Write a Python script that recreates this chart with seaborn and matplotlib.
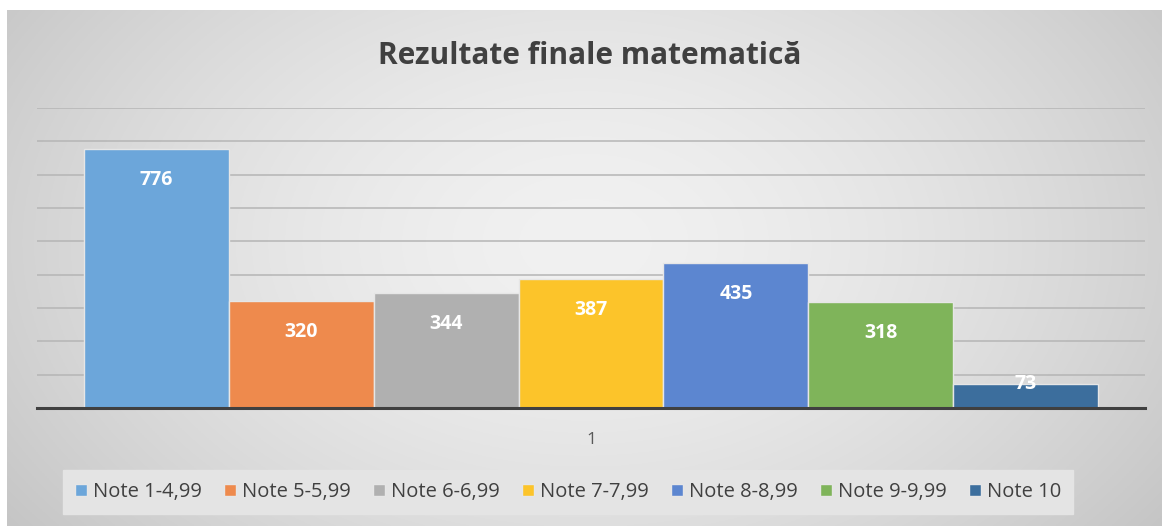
import numpy as np
import pandas as pd
import matplotlib
matplotlib.use("Agg")
import matplotlib.pyplot as plt
import seaborn as sns

categories = ["1"]
series = ["Note 1-4,99", "Note 5-5,99", "Note 6-6,99", "Note 7-7,99",
          "Note 8-8,99", "Note 9-9,99", "Note 10"]
values = [776, 320, 344, 387, 435, 318, 73]
colors = ["#6CA6DA", "#EE8A4D", "#B0B0B0", "#FCC42A", "#5C86D0", "#7FB45A", "#3C6E9D"]

sns.set_theme(style="white")
plt.rcParams['font.family'] = ['Open Sans', 'DejaVu Sans']

fig = plt.figure(figsize=(11.62, 5.26), dpi=100)
fig.patch.set_facecolor("white")

# gradient background
bg = fig.add_axes([7/1162, 0, 1 - 7/1162, 516/526], zorder=-10)
H, W = 300, 600
yy, xx = np.mgrid[0:H, 0:W]
cx, cy = W * 0.5, H * 0.45
d = np.sqrt(((xx - cx) / (W * 0.5)) ** 2 + ((yy - cy) / (H * 0.75)) ** 2)
d = np.clip(d / 1.25, 0, 1)
c0, c1 = 0.945, 0.77
g = c0 + (c1 - c0) * d ** 1.6
img = np.dstack([g, g, g])
bg.imshow(img, aspect="auto", extent=[0, 1, 0, 1], origin="upper")
bg.set_axis_off()

ax = fig.add_axes([37/1162, 118/526, (1145 - 37)/1162, 300/526])
ax.set_facecolor("none")

df = pd.DataFrame({"cat": categories * len(series), "series": series, "val": values})
sns.barplot(data=df, x="cat", y="val", hue="series", hue_order=series,
            palette=colors, saturation=1, width=0.915, ax=ax, edgecolor="#e6e6e6",
            linewidth=1, legend=True, zorder=3)

ax.set_xlim(-0.5, 0.5)
ax.set_ylim(0, 900)
ax.set_yticks(np.arange(100, 1000, 100))
ax.yaxis.grid(True, color="#b5b5b5", linewidth=1.1, zorder=0)
ax.set_axisbelow(True)
ax.tick_params(axis="y", length=0, labelleft=False)
ax.tick_params(axis="x", length=0, labelsize=12.5, colors="#595959", pad=17)
ax.set_xlabel("")
ax.set_ylabel("")
for s in ["top", "right", "left"]:
    ax.spines[s].set_visible(False)
ax.spines["bottom"].set_color("#404040")
ax.spines["bottom"].set_linewidth(2.2)
ax.spines["bottom"].set_zorder(5)

for p, v in zip(ax.patches, values):
    x = p.get_x() + p.get_width() / 2
    y = v - 92 if v > 200 else v
    ax.text(x, y, str(v), ha="center", va="center", color="white",
            fontsize=14, fontweight="bold", zorder=6)

fig.text(590/1162, 1 - 56/526, "Rezultate finale matematică", ha="center", va="center",
         fontsize=21.5, fontweight="bold", color="#404040")

handles, labels = ax.get_legend_handles_labels()
ax.get_legend().remove()
leg = fig.legend(handles, labels, loc="center", bbox_to_anchor=(568/1162, 1 - 492/526),
                 ncol=7, frameon=True, facecolor="#e4e4e4", edgecolor="#e4e4e4",
                 fancybox=False, framealpha=1, fontsize=14.5, handlelength=0.6,
                 handleheight=0.6, handletextpad=0.3, columnspacing=1.1,
                 borderpad=0.6, labelcolor="#404040")
for h in leg.legend_handles:
    h.set_edgecolor("#e6e6e6")

fig.savefig("out.png", dpi=100)
